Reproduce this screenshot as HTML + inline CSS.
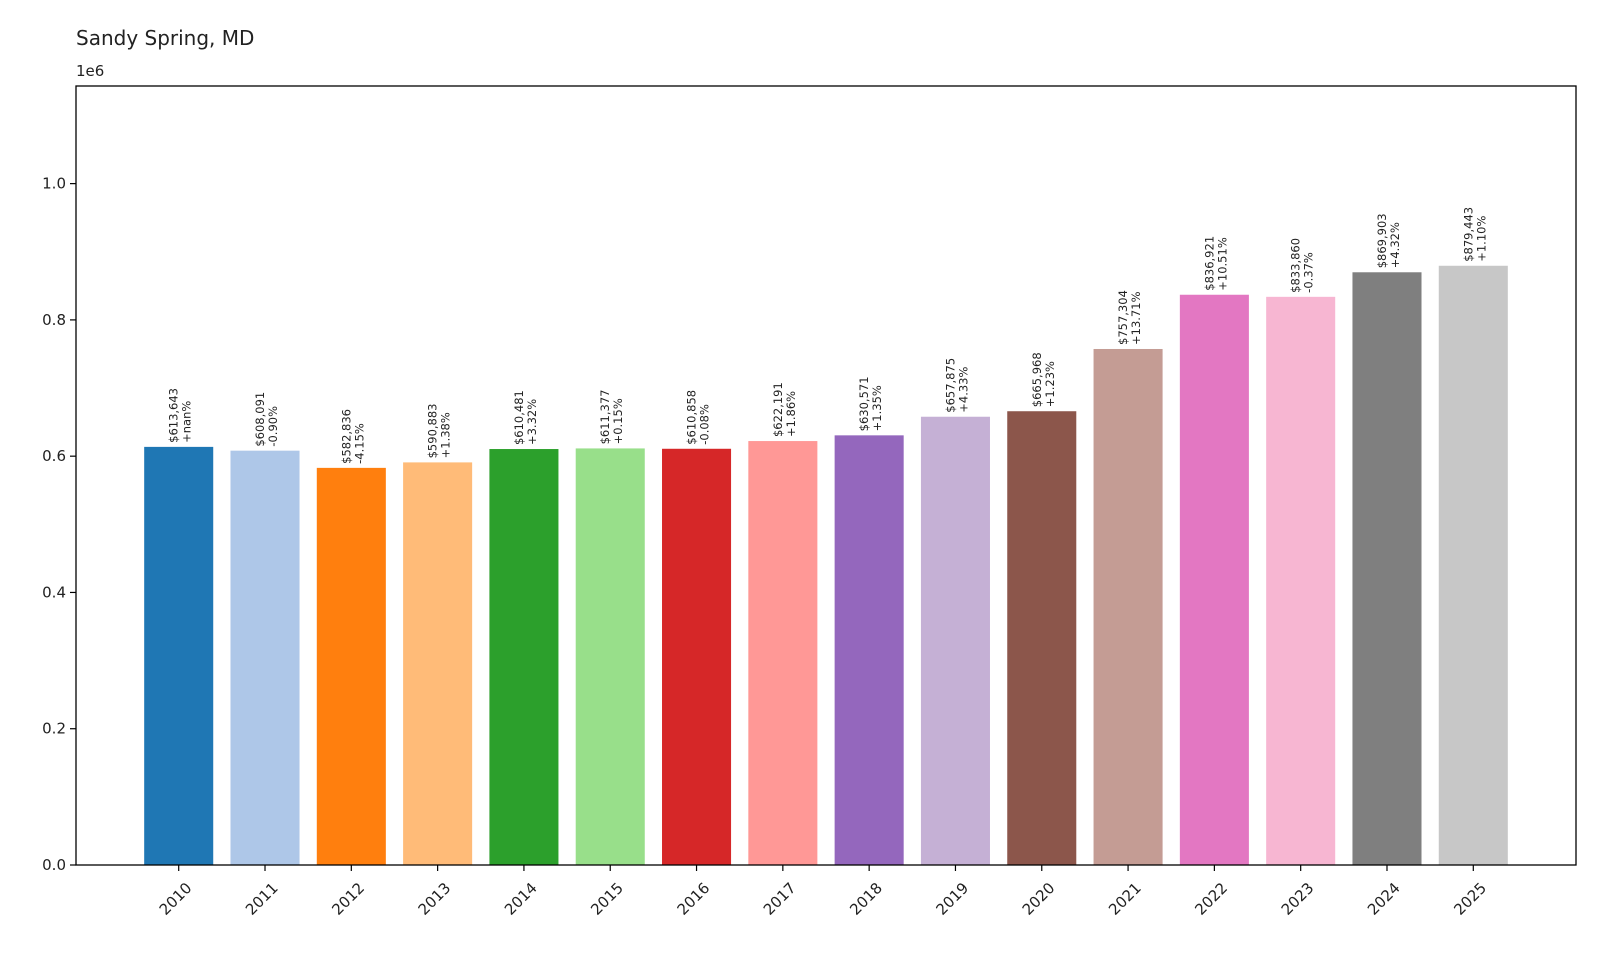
<!DOCTYPE html>
<html><head><meta charset="utf-8"><style>
body{margin:0;background:#fff}
svg{display:block;font-family:"DejaVu Sans","Liberation Sans",sans-serif}
</style></head><body>
<svg id="chart" width="1600" height="960" viewBox="0 0 1600 960">
<text x="76" y="45" font-size="20" fill="#222">Sandy Spring, MD</text>
<text x="76" y="76" font-size="15" fill="#222">1e6</text>
<g id="plot"></g>
<rect x="76" y="86" width="1500" height="779" fill="none" stroke="#000" stroke-width="1.3"/>
</svg>
<script>
const years = ["2010","2011","2012","2013","2014","2015","2016","2017","2018","2019","2020","2021","2022","2023","2024","2025"];
const values = [613643,608091,582836,590883,610481,611377,610858,622191,630571,657875,665968,757304,836921,833860,869903,879443];
const changes = ["+nan%","-0.90%","-4.15%","+1.38%","+3.32%","+0.15%","-0.08%","+1.86%","+1.35%","+4.33%","+1.23%","+13.71%","+10.51%","-0.37%","+4.32%","+1.10%"];
const yTicks = [0,0.2,0.4,0.6,0.8,1.0];
const yTickLabels = ["0.0","0.2","0.4","0.6","0.8","1.0"];
const colors = ["#1f77b4","#aec7e8","#ff7f0e","#ffbb78","#2ca02c","#98df8a","#d62728","#ff9896","#9467bd","#c5b0d5","#8c564b","#c49c94","#e377c2","#f7b6d2","#7f7f7f","#c7c7c7"];

const L=76,R=1576,T=86,B=865;
const n=years.length;
const xmin=-0.4-0.05*(n-1+0.8), xmax=n-1+0.4+0.05*(n-1+0.8);
const ymax=Math.max(...values)*1.3;
const xs=i=>L+(i-xmin)/(xmax-xmin)*(R-L);
const ys=v=>B-v/ymax*(B-T);
const NS="http://www.w3.org/2000/svg";
const g=document.getElementById('plot');
function mk(tag,attrs,parent){const e=document.createElementNS(NS,tag);for(const k in attrs)e.setAttribute(k,attrs[k]);(parent||g).appendChild(e);return e;}
const bw=0.8*(xs(1)-xs(0));
years.forEach((y,i)=>{
  const cx=xs(i), top=ys(values[i]);
  const r=mk('rect',{x:cx-bw/2,y:top,width:bw,height:B-top,fill:colors[i]});
  
  
  const lg=mk('g',{transform:`translate(${cx},${top-4}) rotate(-90)`,'font-size':'11.5',fill:'#222'});
  
  
  const t1=mk('text',{x:0,y:-1},lg); t1.textContent='$'+values[i].toLocaleString('en-US');
  const t2=mk('text',{x:0,y:12},lg); t2.textContent=changes[i];
  mk('line',{x1:cx,x2:cx,y1:B,y2:B+6,stroke:'#000','stroke-width':1.2});
  const xl=mk('text',{transform:`translate(${cx+6},${B+16}) rotate(-45)`,'text-anchor':'end','dominant-baseline':'hanging','font-size':'15',fill:'#222'});
  
  
  xl.textContent=y;
});
yTicks.forEach((v,i)=>{
  const yy=ys(v*1e6);
  mk('line',{x1:L-6,x2:L,y1:yy,y2:yy,stroke:'#000','stroke-width':1.2});
  const t=mk('text',{x:L-10,y:yy+5,'text-anchor':'end','font-size':'15',fill:'#222'});
  
  
  t.textContent=yTickLabels[i];
});
</script>
</body></html>
